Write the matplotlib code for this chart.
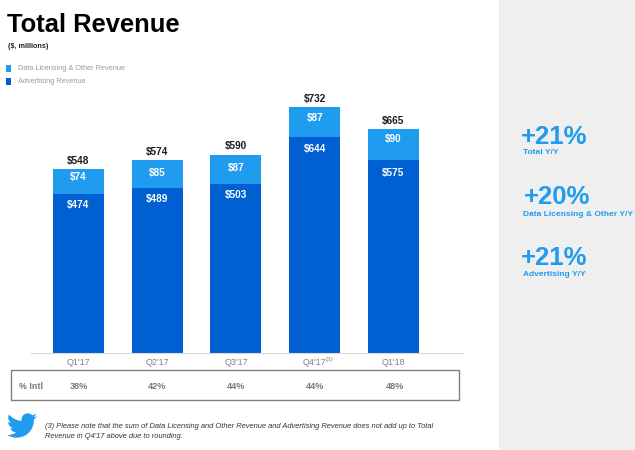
import matplotlib
matplotlib.use("Agg")
import matplotlib.pyplot as plt
from matplotlib.patches import Rectangle, PathPatch
from matplotlib.path import Path

quarters = ["Q1'17", "Q2'17", "Q3'17", "Q4'17", "Q1'18"]
advertising = [474, 489, 503, 644, 575]
data_licensing = [74, 85, 87, 87, 90]
totals = [548, 574, 590, 732, 665]
pct_intl = ["38%", "42%", "44%", "44%", "48%"]
kpi_values = ["+21%", "+20%", "+21%"]
kpi_labels = ["Total Y/Y", "Data Licensing & Other Y/Y", "Advertising Y/Y"]

LIGHT = "#1f9cf0"
DARK = "#0060d2"
W, H = 635, 450
plt.rcParams["font.family"] = ["Liberation Sans", "DejaVu Sans"]

fig = plt.figure(figsize=(W / 100, H / 100), dpi=100, facecolor="white")

# overlay in pixel coordinates for the slide furniture
bg = fig.add_axes([0, 0, 1, 1], zorder=0)
bg.set_xlim(0, W); bg.set_ylim(H, 0); bg.axis("off")
bg.add_patch(Rectangle((499, 0), W - 499, H, fc="#efefef", ec="none"))

# chart axes
left, right, base, top = 31, 463, 352.5, 62.5
ax = fig.add_axes([left / W, 1 - base / H, (right - left) / W, (base - top) / H], zorder=1)
ax.patch.set_alpha(0)
xs = list(range(len(quarters)))
ax.bar(xs, advertising, width=0.648, color=DARK)
ax.bar(xs, data_licensing, width=0.648, bottom=advertising, color=LIGHT)
ax.set_xlim(-0.603, 4.883)
ax.set_ylim(0, (base - top) / 0.3354)
ax.set_xticks(xs, quarters)
ax.tick_params(axis="x", length=0, pad=4, labelsize=6.4, labelcolor="#808080")
ax.set_yticks([])
for s in ("top", "left", "right"):
    ax.spines[s].set_visible(False)
ax.spines["bottom"].set_color("#d9d9d9")
# label offsets below each segment top, in pixels, as placed on the slide
top_off = [8, 13, 13, 11, 10]
adv_off = [11, 11, 11, 12, 13]
PX = 0.72
for x, a, d, t, o1, o2 in zip(xs, advertising, data_licensing, totals, top_off, adv_off):
    ax.annotate(f"${t}", (x, t), xytext=(0, 2.3), textcoords="offset points", ha="center",
                va="bottom", fontsize=7.2, fontweight="bold", color="#1a1a1a")
    ax.annotate(f"${d}", (x, a + d), xytext=(0, -o1 * PX), textcoords="offset points", ha="center",
                va="center", fontsize=7.2, fontweight="bold", color="white")
    ax.annotate(f"${a}", (x, a), xytext=(0, -o2 * PX), textcoords="offset points", ha="center",
                va="center", fontsize=7.2, fontweight="bold", color="white")

fg = fig.add_axes([0, 0, 1, 1], zorder=2)
fg.set_xlim(0, W); fg.set_ylim(H, 0); fg.axis("off")
fg.text(7, 25, "Total Revenue", fontsize=18.4, fontweight="bold", color="black", va="center")
fg.text(7.5, 47, "($, millions)", fontsize=5.2, fontweight="bold", color="#222222", va="center")
for y, c, lab in [(68, LIGHT, "Data Licensing & Other Revenue"), (81, DARK, "Advertising Revenue")]:
    fg.add_patch(Rectangle((5.5, y - 3.5), 5.5, 7, fc=c, ec="none"))
    fg.text(18, y + 0.8, lab, fontsize=5.3, color="#9a9a9a", va="center")
fg.text(326, 360, "(3)", fontsize=4.6, color="#808080", va="center")

# % Intl table
fg.add_patch(Rectangle((11, 370), 448, 30, fc="none", ec="#808080", lw=1))
fg.text(19, 386.5, "% Intl", fontsize=6.4, fontweight="bold", color="#7a7a7a", va="center")
for x, p in zip([79, 157.5, 236, 315, 395], pct_intl):
    fg.text(x, 386.5, p, fontsize=6.6, fontweight="bold", color="#7a7a7a", ha="center", va="center")

# KPI panel
for y1, y2, x1, v, l in zip([136.5, 197.5, 258], [153, 214, 275], [521, 524, 521], kpi_values, kpi_labels):
    fg.text(x1, y1, v, fontsize=18.5, fontweight="bold", color=LIGHT, va="center")
    fg.text(523, y2, l, fontsize=6.05, fontweight="bold", color=LIGHT, va="center")

# footnote
fg.text(45, 427, "(3) Please note that the sum of Data Licensing and Other Revenue and Advertising Revenue does not add up to Total",
        fontsize=5.38, style="italic", color="#333333", va="center")
fg.text(45, 437, "Revenue in Q4'17 above due to rounding.", fontsize=5.38, style="italic", color="#333333", va="center")

# bird logo
start = (23.953, 4.57)
segs = [
    (23.05, 4.97, 22.1, 5.22, 21.128, 5.345), (22.18, 4.715, 22.93, 3.745, 23.291, 2.622),
    (22.34, 3.177, 21.286, 3.581, 20.164, 3.806), (19.27, 2.85, 18, 2.25, 16.6, 2.25),
    (13.4, 2.25, 10.95, 5.2, 11.78, 8.288), (7.69, 8.095, 4.067, 6.13, 1.64, 3.162),
    (1.22, 3.9, .974, 4.75, .974, 5.637), (.974, 7.347, 1.844, 8.85, 3.162, 9.733),
    (2.35, 9.71, 1.6, 9.48, .934, 9.117), (.934, 11.55, 2.62, 13.56, 4.88, 14.004),
    (4.15, 14.2, 3.4, 14.23, 2.668, 14.089), (3.3, 16.05, 5.1, 17.43, 7.272, 17.506),
    (5.55, 18.85, 3.4, 19.61, 1.17, 19.611), (.78, 19.611, .391, 19.588, 0, 19.544),
    (2.25, 20.98, 4.88, 21.753, 7.557, 21.753), (16.61, 21.753, 21.555, 14.257, 21.555, 7.768),
    (21.555, 7.558, 21.555, 7.348, 21.54, 7.138), (22.5, 6.44, 23.33, 5.58, 24, 4.59),
]
tx = lambda x, y: (7 + x * 1.25, 413 + (y - 2) * 1.25)
verts = [tx(*start)]
codes = [Path.MOVETO]
for s in segs:
    verts += [tx(s[0], s[1]), tx(s[2], s[3]), tx(s[4], s[5])]
    codes += [Path.CURVE4] * 3
verts.append(tx(*start)); codes.append(Path.CLOSEPOLY)
fg.add_patch(PathPatch(Path(verts, codes), fc=LIGHT, ec="none"))

fig.savefig("out.png", dpi=100, facecolor="white")
